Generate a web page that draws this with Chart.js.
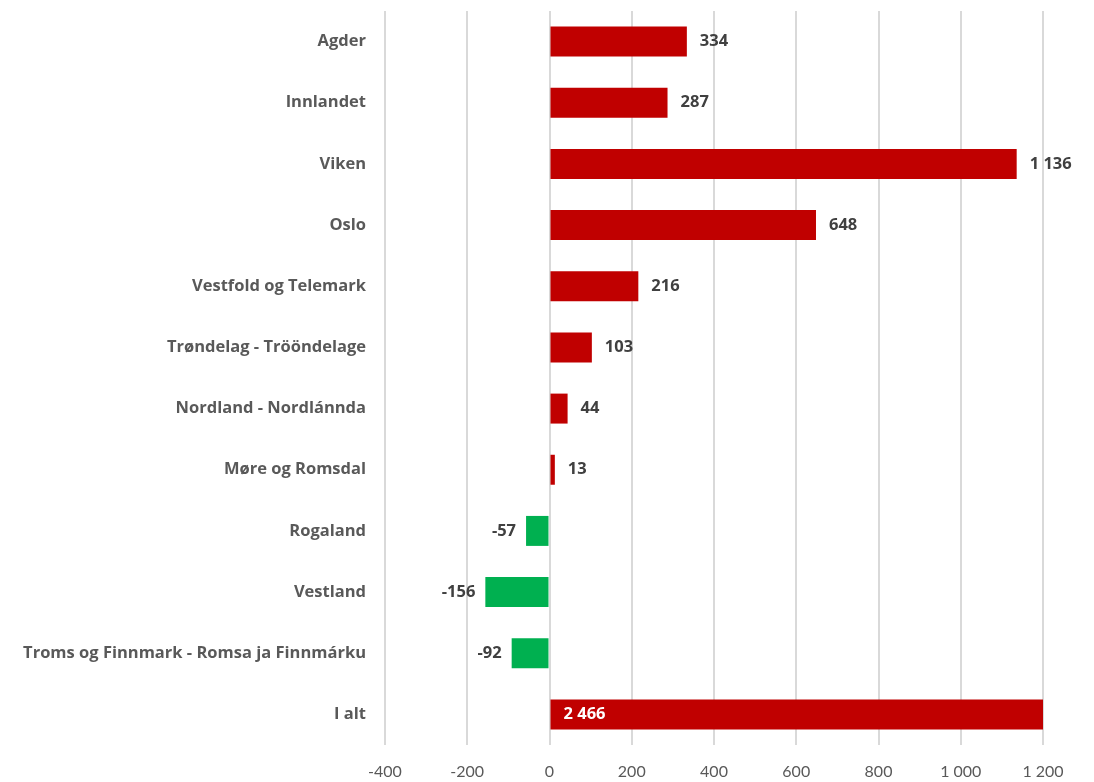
<!DOCTYPE html>
<html>
<head>
<meta charset="utf-8">
<script src="https://cdn.jsdelivr.net/npm/chart.js@4.4.1/dist/chart.umd.min.js"></script>
<style>
  html, body { margin: 0; padding: 0; background: #ffffff; }
  #wrap { width: 1094px; height: 782px; position: relative; }
</style>
</head>
<body>
<div id="wrap"><canvas id="c" width="1094" height="782"></canvas></div>
<script>
const categories = [
  "Agder",
  "Innlandet",
  "Viken",
  "Oslo",
  "Vestfold og Telemark",
  "Trøndelag - Trööndelage",
  "Nordland - Nordlánnda",
  "Møre og Romsdal",
  "Rogaland",
  "Vestland",
  "Troms og Finnmark - Romsa ja Finnmárku",
  "I alt"
];
const values = [334, 287, 1136, 648, 216, 103, 44, 13, -57, -156, -92, 2466];
const xTicks = [-400, -200, 0, 200, 400, 600, 800, 1000, 1200];

const RED = "#C00000";
const GREEN = "#00B050";
const BOLDFONT = "'Open Sans', Lato, sans-serif";
const TICKFONT = "Lato, 'Open Sans', sans-serif";

function fmt(n) {
  const s = String(Math.abs(n)).replace(/\B(?=(\d{3})+(?!\d))/g, " ");
  return (n < 0 ? "-" : "") + s;
}

const labelPlugin = {
  id: "valueLabels",
  afterDatasetsDraw(chart) {
    const ctx = chart.ctx;
    const meta = chart.getDatasetMeta(0);
    const xs = chart.scales.x;
    ctx.save();
    ctx.font = "bold 16.5px " + BOLDFONT;
    ctx.textBaseline = "middle";
    meta.data.forEach((bar, i) => {
      const v = values[i];
      const txt = fmt(v);
      if (v > xs.max) {
        ctx.fillStyle = "#ffffff";
        ctx.textAlign = "left";
        ctx.fillText(txt, bar.base + 13, bar.y);
      } else if (v >= 0) {
        ctx.fillStyle = "#404040";
        ctx.textAlign = "left";
        ctx.fillText(txt, bar.x + 13, bar.y);
      } else {
        ctx.fillStyle = "#404040";
        ctx.textAlign = "right";
        ctx.fillText(txt, bar.x - 10, bar.y);
      }
    });
    ctx.restore();
  }
};

new Chart(document.getElementById("c"), {
  type: "bar",
  data: {
    labels: categories,
    datasets: [{
      data: values,
      backgroundColor: values.map(v => v < 0 ? GREEN : RED),
      borderWidth: 0,
      categoryPercentage: 0.98,
      barPercentage: 0.5
    }]
  },
  options: {
    indexAxis: "y",
    responsive: false,
    animation: false,
    devicePixelRatio: 1,
    layout: { autoPadding: false, padding: { top: 11, right: 51, left: 0, bottom: 0 } },
    plugins: { legend: { display: false }, tooltip: { enabled: false } },
    scales: {
      x: {
        min: -400,
        max: 1200,
        afterBuildTicks(scale) { scale.ticks = xTicks.map(v => ({ value: v })); },
        afterFit(scale) { scale.height = 37; scale.paddingLeft = 0; scale.paddingRight = 0; scale.paddingTop = 0; scale.paddingBottom = 0; },
        grid: { color: "#d9d9d9", lineWidth: 2, drawTicks: false },
        border: { display: false },
        ticks: {
          padding: 17,
          color: "#595959",
          font: { family: TICKFONT, size: 16 },
          callback: (v) => fmt(v)
        }
      },
      y: {
        afterFit(scale) { scale.width = 385; scale.paddingTop = 0; scale.paddingBottom = 0; scale.paddingLeft = 0; scale.paddingRight = 0; },
        grid: { display: false, drawTicks: false },
        border: { display: false },
        ticks: {
          padding: 19,
          color: "#595959",
          font: { family: BOLDFONT, size: 16.5, weight: "bold" }
        }
      }
    }
  },
  plugins: [labelPlugin]
});
</script>
</body>
</html>
